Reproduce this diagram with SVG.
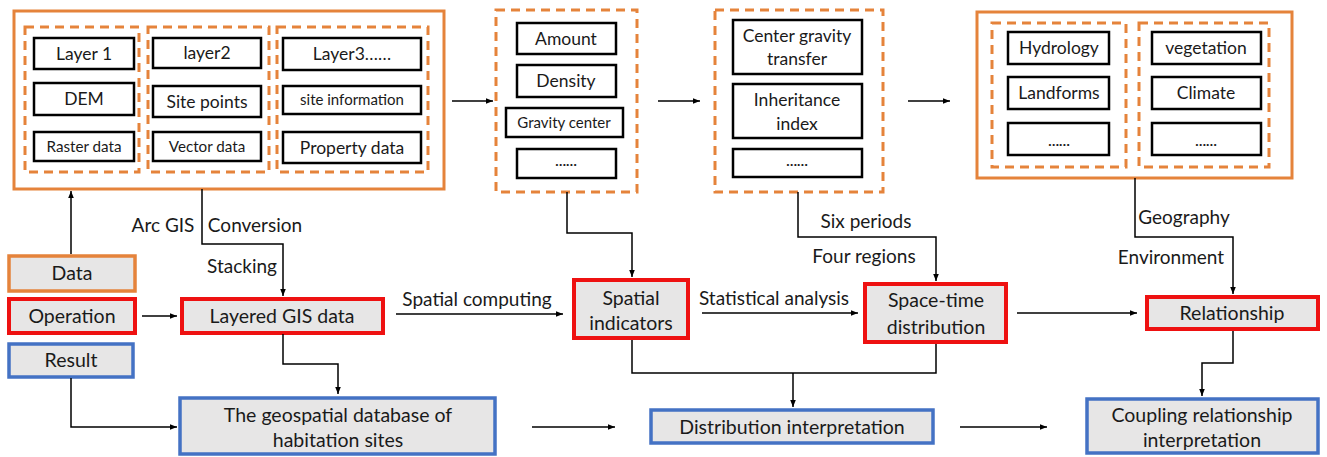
<svg xmlns="http://www.w3.org/2000/svg" width="1327" height="457" viewBox="0 0 1327 457">
<defs>
<marker id="ah" viewBox="0 0 10 10" refX="10" refY="5" markerWidth="7" markerHeight="7" markerUnits="userSpaceOnUse" orient="auto"><path d="M0,1 L10,5 L0,9 z" fill="#000"/></marker>
<style>
text{font-family:Lato,"Liberation Sans",sans-serif;fill:#1a1a1a;text-anchor:middle}
.solid{fill:none;stroke:#E5833B;stroke-width:3}
.dash{fill:none;stroke:#E5833B;stroke-width:3;stroke-dasharray:9,6}
.ib{fill:#fff;stroke:#000;stroke-width:2.5}
.red{fill:#E7E6E6;stroke:#EE1111;stroke-width:4}
.blue{fill:#E7E6E6;stroke:#4472C4;stroke-width:3.5}
.org{fill:#E7E6E6;stroke:#E5833B;stroke-width:3.5}
.c{fill:none;stroke:#000;stroke-width:1.5}
.ca{fill:none;stroke:#000;stroke-width:1.5;marker-end:url(#ah)}
.t18{font-size:19.5px}
.lb{font-size:19px}
.t16{font-size:17.5px}
.t14{font-size:15.2px}
.t13{font-size:15px}
.el{font-size:14px;font-weight:bold}
</style>
</defs>

<g id="data-layers">
<rect class="solid" x="14" y="11" width="430" height="178"/>
<rect class="dash" x="25" y="27" width="114" height="145"/>
<rect class="dash" x="148" y="27" width="121" height="145"/>
<rect class="dash" x="277" y="27" width="151" height="145"/>
<g id="layer1"><rect class="ib" x="34" y="38" width="100" height="31"/><text class="t16" x="84" y="60">Layer 1</text></g>
<g id="dem"><rect class="ib" x="34" y="83" width="100" height="32"/><text class="t16" x="84" y="105">DEM</text></g>
<g id="raster"><rect class="ib" x="34" y="132" width="100" height="29"/><text class="t14" x="84" y="152">Raster data</text></g>
<g id="layer2"><rect class="ib" x="153" y="38" width="108" height="30"/><text class="t16" x="207" y="59">layer2</text></g>
<g id="sitepoints"><rect class="ib" x="153" y="86" width="108" height="31"/><text class="t16" x="207" y="108">Site points</text></g>
<g id="vector"><rect class="ib" x="153" y="132" width="108" height="29"/><text class="t14" x="207" y="152">Vector data</text></g>
<g id="layer3"><rect class="ib" x="283" y="38" width="138" height="32"/><text class="t16" x="352" y="60">Layer3……</text></g>
<g id="siteinfo"><rect class="ib" x="283" y="86" width="138" height="28"/><text class="t13" x="352" y="105">site information</text></g>
<g id="property"><rect class="ib" x="283" y="132" width="138" height="31"/><text class="t16" x="352" y="154">Property data</text></g>
</g>

<g id="indicator-set">
<rect class="dash" x="496" y="10" width="141" height="182"/>
<g id="amount"><rect class="ib" x="517" y="23" width="99" height="31"/><text class="t16" x="566" y="45">Amount</text></g>
<g id="density"><rect class="ib" x="517" y="65" width="99" height="32"/><text class="t16" x="566" y="87">Density</text></g>
<g id="gravity"><rect class="ib" x="506" y="108" width="117" height="29"/><text class="t13" x="564" y="128">Gravity center</text></g>
<g id="more1"><rect class="ib" x="517" y="149" width="99" height="29"/><text class="el" x="566" y="166">……</text></g>
</g>

<g id="analysis-set">
<rect class="dash" x="715" y="10" width="168" height="182"/>
<g id="cgt"><rect class="ib" x="733" y="20" width="129" height="54"/><text class="t16" x="797" y="42">Center gravity</text><text class="t16" x="797" y="65">transfer</text></g>
<g id="inherit"><rect class="ib" x="733" y="84" width="129" height="54"/><text class="t16" x="797" y="106">Inheritance</text><text class="t16" x="797" y="130">index</text></g>
<g id="more2"><rect class="ib" x="733" y="149" width="129" height="28"/><text class="el" x="797" y="166">……</text></g>
</g>

<g id="environment-set">
<rect class="solid" x="977" y="12" width="315" height="166"/>
<rect class="dash" x="992" y="23" width="134" height="144"/>
<rect class="dash" x="1139" y="23" width="130" height="144"/>
<g id="hydrology"><rect class="ib" x="1008" y="32" width="101" height="32"/><text class="t16" x="1059" y="54">Hydrology</text></g>
<g id="landforms"><rect class="ib" x="1008" y="77" width="101" height="32"/><text class="t16" x="1059" y="99">Landforms</text></g>
<g id="more3"><rect class="ib" x="1008" y="123" width="101" height="32"/><text class="el" x="1059" y="146">……</text></g>
<g id="vegetation"><rect class="ib" x="1152" y="32" width="109" height="32"/><text class="t16" x="1206" y="54">vegetation</text></g>
<g id="climate"><rect class="ib" x="1152" y="77" width="109" height="32"/><text class="t16" x="1206" y="99">Climate</text></g>
<g id="more4"><rect class="ib" x="1152" y="123" width="109" height="32"/><text class="el" x="1206" y="146">……</text></g>
</g>

<g id="legend-data"><rect class="org" x="9" y="256" width="126" height="35"/><text class="t18" x="72" y="280">Data</text></g>
<g id="legend-operation"><rect class="red" x="9" y="299" width="126" height="34"/><text class="t18" x="72" y="323">Operation</text></g>
<g id="legend-result"><rect class="blue" x="9" y="344" width="124" height="33"/><text class="t18" x="71" y="367">Result</text></g>

<g id="layered"><rect class="red" x="182" y="299" width="201" height="34"/><text class="t18" x="282" y="323">Layered GIS data</text></g>
<g id="spatial-ind"><rect class="red" x="574" y="280" width="114" height="58"/><text class="t18" x="631" y="305">Spatial</text><text class="t18" x="631" y="330">indicators</text></g>
<g id="spacetime"><rect class="red" x="865" y="284" width="141" height="58"/><text class="t18" x="936" y="307">Space-time</text><text class="t18" x="936" y="334">distribution</text></g>
<g id="relationship"><rect class="red" x="1147" y="297" width="171" height="32"/><text class="t18" x="1232" y="320">Relationship</text></g>

<g id="geodb"><rect class="blue" x="180" y="398" width="315" height="56"/><text class="t18" x="338" y="422">The geospatial database of</text><text class="t18" x="338" y="447">habitation sites</text></g>
<g id="distinterp"><rect class="blue" x="651" y="410" width="282" height="33"/><text class="t18" x="792" y="434">Distribution interpretation</text></g>
<g id="coupling"><rect class="blue" x="1087" y="399" width="231" height="54"/><text class="t18" x="1202" y="422">Coupling relationship</text><text class="t18" x="1202" y="447">interpretation</text></g>

<g id="connectors">
<path class="ca" d="M452,101 H493"/>
<path class="ca" d="M658,101 H700"/>
<path class="ca" d="M908,101 H950"/>
<path class="ca" d="M71,254 V191"/>
<path class="ca" d="M142,316 H177"/>
<path class="ca" d="M202,189 V244 H283 V296"/>
<path class="ca" d="M283,334 V364 H338 V394"/>
<path class="ca" d="M71,378 V427 H177"/>
<path class="ca" d="M396,314 H563"/>
<path class="ca" d="M567,192 V233 H632 V277"/>
<path class="ca" d="M702,313 H858"/>
<path class="ca" d="M798,192 V237 H936 V281"/>
<path class="c" d="M632,340 V373 H936 V344"/>
<path class="ca" d="M793,373 V407"/>
<path class="ca" d="M532,427 H615"/>
<path class="ca" d="M960,427 H1047"/>
<path class="ca" d="M1017,313 H1137"/>
<path class="ca" d="M1135,178 V237 H1233 V294"/>
<path class="ca" d="M1233,331 V363 H1202 V396"/>
</g>

<g id="labels">
<text class="lb" x="163" y="232">Arc GIS</text>
<text class="lb" x="255" y="232">Conversion</text>
<text class="lb" x="242" y="273">Stacking</text>
<text class="lb" x="477" y="306">Spatial computing</text>
<text class="lb" x="774" y="305">Statistical analysis</text>
<text class="lb" x="866" y="228">Six periods</text>
<text class="lb" x="864" y="263">Four regions</text>
<text class="lb" x="1184" y="224">Geography</text>
<text class="lb" x="1171" y="264">Environment</text>
</g>
</svg>
